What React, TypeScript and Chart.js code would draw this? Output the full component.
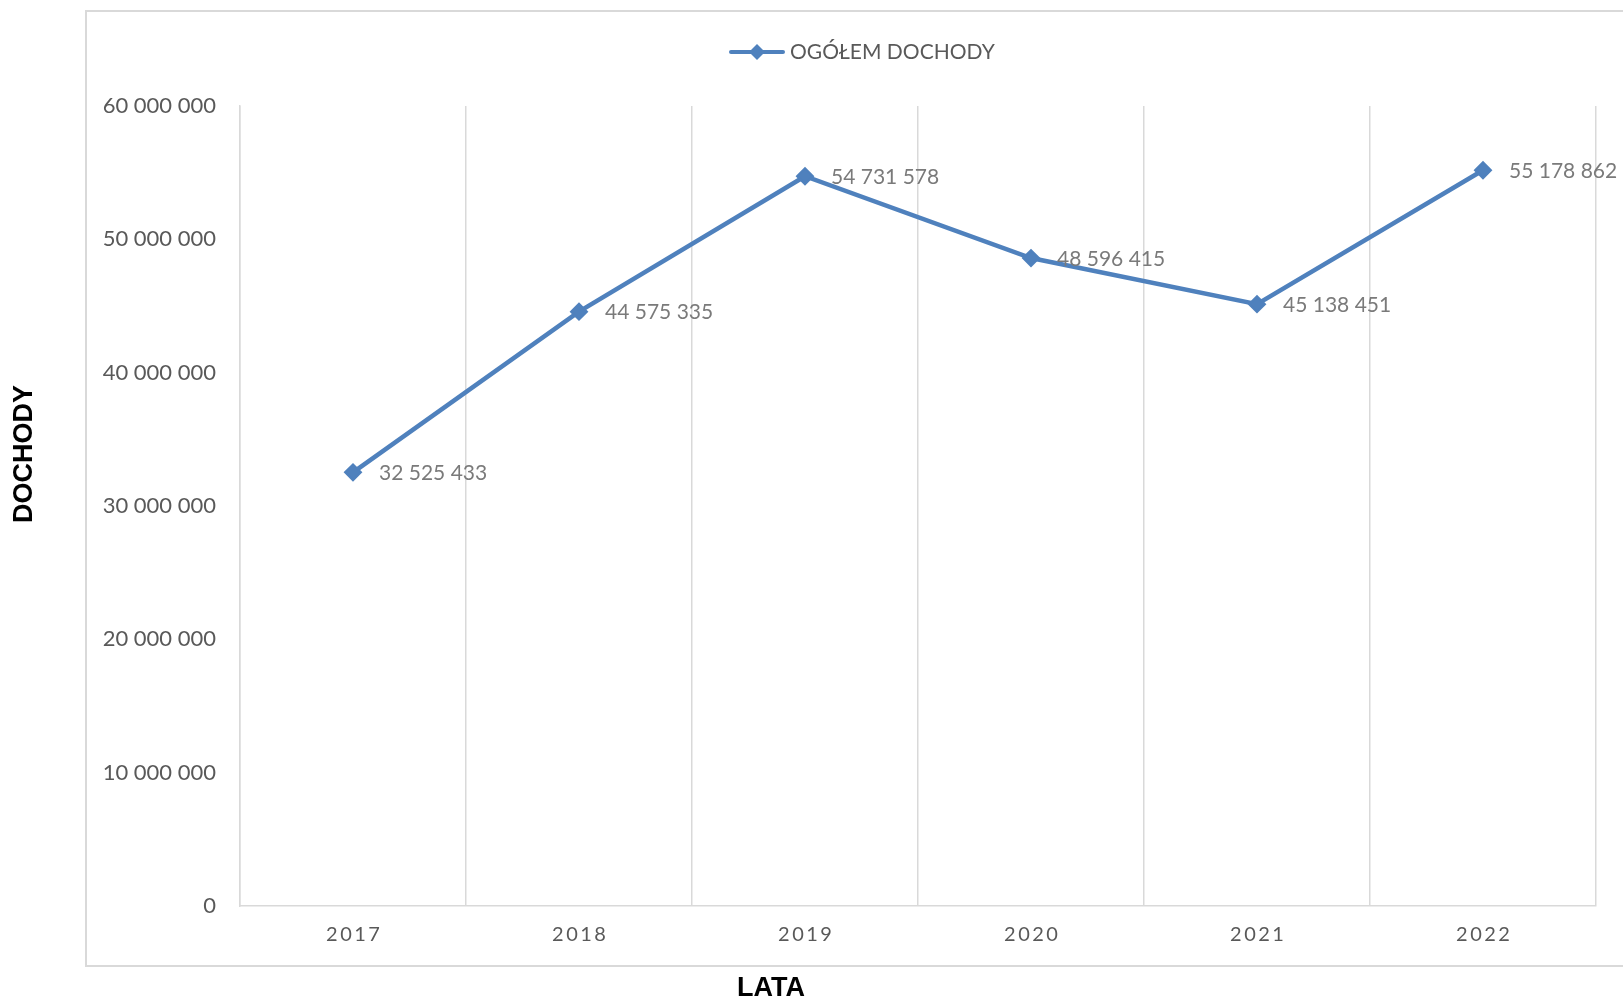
import React, { useEffect, useRef } from "react";
import { Chart, registerables } from "chart.js";

Chart.register(...registerables);

const years = ["2017", "2018", "2019", "2020", "2021", "2022"];
const incomeTotal = [32525433, 44575335, 54731578, 48596415, 45138451, 55178862];
const seriesLabel = "OGÓŁEM DOCHODY";
const yTitle = "DOCHODY";
const xTitle = "LATA";
const yMax = 60000000;
const yStep = 10000000;

const LINE_COLOR = "#4f81bd";
const GRID_COLOR = "#d9d9d9";
const TEXT_FONT = "Lato, 'Open Sans', sans-serif";

const fmt = (v: number) =>
  Math.round(v)
    .toString()
    .replace(/\B(?=(\d{3})+(?!\d))/g, " ");

const W = 1623;
const H = 1004;

const decorPlugin = {
  id: "decor",
  beforeDraw(chart: any) {
    const ctx = chart.ctx;
    ctx.save();
    ctx.fillStyle = "#ffffff";
    ctx.fillRect(0, 0, W, H);
    ctx.strokeStyle = GRID_COLOR;
    ctx.lineWidth = 2;
    ctx.strokeRect(86, 11, W + 20, 955);
    ctx.restore();
  },
  afterDraw(chart: any) {
    const ctx = chart.ctx;
    const xScale = chart.scales.x;
    ctx.save();
    // x tick labels with letter spacing
    ctx.font = "20px " + TEXT_FONT;
    ctx.fillStyle = "#595959";
    ctx.textBaseline = "middle";
    ctx.textAlign = "left";
    const sp = 2.5;
    (ctx as any).letterSpacing = sp + "px";
    years.forEach((lab, i) => {
      const cx = xScale.getPixelForTick(i);
      const w = ctx.measureText(lab).width - sp;
      ctx.fillText(lab, cx - w / 2, 935);
    });
    (ctx as any).letterSpacing = "0px";

    // legend
    const ly = 52;
    ctx.strokeStyle = LINE_COLOR;
    ctx.lineWidth = 4;
    ctx.lineCap = "round";
    ctx.beginPath();
    ctx.moveTo(731, ly);
    ctx.lineTo(783, ly);
    ctx.stroke();
    ctx.fillStyle = LINE_COLOR;
    ctx.beginPath();
    ctx.moveTo(757, ly - 8);
    ctx.lineTo(765, ly);
    ctx.lineTo(757, ly + 8);
    ctx.lineTo(749, ly);
    ctx.closePath();
    ctx.fill();
    ctx.font = "21px " + TEXT_FONT;
    ctx.fillStyle = "#595959";
    ctx.textAlign = "left";
    ctx.fillText(seriesLabel, 790, ly);

    // axis titles
    ctx.fillStyle = "#000000";
    ctx.font = "bold 27px 'Liberation Sans', Arial, sans-serif";
    ctx.textAlign = "center";
    ctx.fillText(xTitle, 771, 989);
    ctx.translate(25, 454);
    ctx.rotate(-Math.PI / 2);
    ctx.fillText(yTitle, 0, 0);
    ctx.restore();
  },
  afterDatasetsDraw(chart: any) {
    const ctx = chart.ctx;
    const meta = chart.getDatasetMeta(0);
    ctx.save();
    ctx.font = "21px " + TEXT_FONT;
    ctx.fillStyle = "#7a7a7a";
    ctx.textAlign = "left";
    ctx.textBaseline = "middle";
    meta.data.forEach((pt: any, i: number) => {
      ctx.fillText(fmt(incomeTotal[i]), pt.x + 26, pt.y + 1);
    });
    ctx.restore();
  },
};

export default function App() {
  const ref = useRef<HTMLCanvasElement | null>(null);
  useEffect(() => {
    if (!ref.current) return;
    const chart = new Chart(ref.current, {
      type: "line",
      data: {
        labels: years,
        datasets: [
          {
            label: seriesLabel,
            data: incomeTotal,
            borderColor: LINE_COLOR,
            backgroundColor: LINE_COLOR,
            borderWidth: 4.5,
            pointStyle: "rectRot",
            pointRadius: 8,
            pointBorderWidth: 2,
            pointBackgroundColor: LINE_COLOR,
            pointBorderColor: LINE_COLOR,
            tension: 0,
          },
        ],
      },
      options: {
        responsive: false,
        animation: false,
        devicePixelRatio: 1,
        layout: { padding: { top: 106, right: 27, left: 0, bottom: 0 } },
        plugins: {
          legend: { display: false },
          tooltip: { enabled: false },
        },
        scales: {
          x: {
            offset: true,
            grid: {
              display: true,
              offset: true,
              color: GRID_COLOR,
              lineWidth: 1.5,
              drawTicks: false,
            },
            border: { display: true, color: GRID_COLOR, width: 1.5 },
            ticks: { display: false },
            afterFit(scale: any) {
              scale.height = 98;
            },
          },
          y: {
            min: 0,
            max: yMax,
            grid: { display: false, drawTicks: false },
            border: { display: true, color: GRID_COLOR, width: 1.5 },
            ticks: {
              stepSize: yStep,
              padding: 24,
              color: "#595959",
              font: { family: TEXT_FONT, size: 22 },
              callback: (v: any) => fmt(Number(v)),
            },
            afterFit(scale: any) {
              scale.width = 240;
            },
          },
        },
      },
      plugins: [decorPlugin],
    });
    return () => chart.destroy();
  }, []);
  return (
    <div style={{ position: "fixed", left: 0, top: 0, width: W, height: H, background: "#fff" }}>
      <canvas ref={ref} width={W} height={H} style={{ display: "block" }} />
    </div>
  );
}
